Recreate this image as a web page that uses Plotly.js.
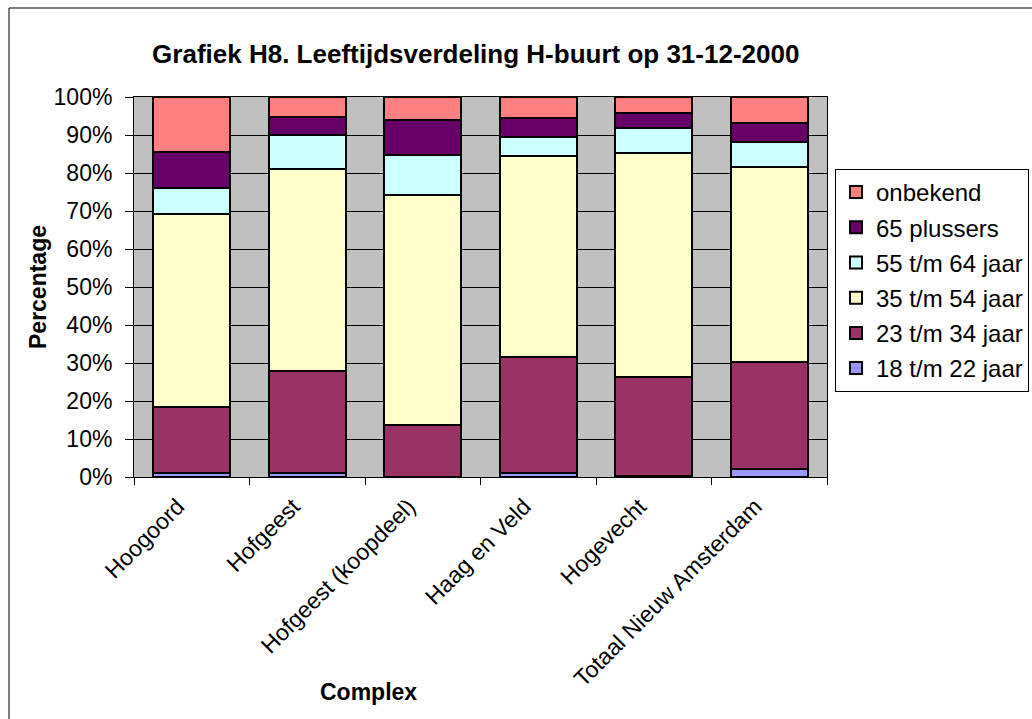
<!DOCTYPE html>
<html>
<head>
<meta charset="utf-8">
<script src="https://cdn.plot.ly/plotly-3.0.1.min.js"></script>
<style>html,body{margin:0;padding:0;background:#fff;}#chart{width:1032px;height:719px;}</style>
</head>
<body>
<div id="chart"></div>
<script>
var categories = ["Hoogoord", "Hofgeest", "Hofgeest (koopdeel)", "Haag en Veld", "Hogevecht", "Totaal Nieuw Amsterdam"];
var seriesNames = ["18 t/m 22 jaar", "23 t/m 34 jaar", "35 t/m 54 jaar", "55 t/m 64 jaar", "65 plussers", "onbekend"];
var v18_22 = [1.1, 1.1, 0.0, 1.1, 0.3, 2.1];
var v23_34 = [17.4, 26.8, 13.8, 30.5, 26.1, 28.2];
var v35_54 = [50.6, 53.2, 60.5, 53.0, 58.9, 51.4];
var v55_64 = [7.0, 8.8, 10.4, 4.8, 6.6, 6.5];
var v65plus = [9.4, 4.8, 9.2, 5.1, 3.9, 5.0];
var vOnbekend = [14.5, 5.3, 6.1, 5.5, 4.2, 6.8];
var seriesValues = [v18_22, v23_34, v35_54, v55_64, v65plus, vOnbekend];
var colors = ["#9999FF", "#993366", "#FFFFCC", "#CCFFFF", "#660066", "#FF8080"];

var FONT = "Liberation Sans, Arial, sans-serif";

var traces = seriesNames.map(function (name, i) {
  return {
    type: "bar",
    name: name,
    x: categories,
    y: seriesValues[i],
    legendgroup: "g" + i,
    legendrank: 1000 - i,
    marker: { color: colors[i], line: { color: "#000000", width: 2 } },
    hovertemplate: "%{x}<br>" + name + ": %{y}%<extra></extra>"
  };
});

var layout = {
  width: 1032,
  height: 719,
  margin: { l: 134, r: 205, t: 97, b: 242 },
  paper_bgcolor: "#FFFFFF",
  plot_bgcolor: "#C0C0C0",
  barmode: "stack",
  bargap: 0.336,
  font: { family: FONT, color: "#000000", size: 23 },
  title: {
    text: "<b>Grafiek H8. Leeftijdsverdeling H-buurt op 31-12-2000</b>",
    font: { family: FONT, size: 26, color: "#000000" },
    xref: "container", x: 0.461, xanchor: "center",
    yref: "container", y: 1 - 53.5 / 719, yanchor: "middle"
  },
  xaxis: {
    type: "category",
    showline: true, linecolor: "#000000", linewidth: 1, mirror: true,
    showgrid: false,
    ticks: "outside", tickson: "boundaries", ticklen: 7, tickcolor: "#000000", tickwidth: 1,
    tickangle: -45,
    ticklabelshift: -14,
    ticklabelstandoff: 6,
    tickfont: { family: FONT, size: 23, color: "#000000" },
    fixedrange: true
  },
  yaxis: {
    range: [0, 100],
    dtick: 10,
    ticksuffix: "%",
    showline: true, linecolor: "#000000", linewidth: 1, mirror: true,
    showgrid: true, gridcolor: "#000000", gridwidth: 1,
    ticks: "outside", ticklen: 8, tickcolor: "#000000", tickwidth: 1,
    ticklabelstandoff: 8,
    tickfont: { family: FONT, size: 23, color: "#000000" },
    title: { text: "<b>Percentage</b>", font: { family: FONT, size: 23, color: "#000000" }, standoff: 0 },
    zeroline: false,
    fixedrange: true
  },
  legend: {
    xref: "container", x: 835 / 1032, xanchor: "left",
    yref: "container", y: 1 - 169 / 719, yanchor: "top",
    traceorder: "grouped",
    tracegroupgap: 1,
    bgcolor: "#FFFFFF",
    bordercolor: "#000000",
    borderwidth: 1,
    font: { family: FONT, size: 24, color: "#000000" }
  },
  annotations: [{
    text: "<b>Complex</b>",
    xref: "paper", yref: "paper",
    x: (368 - 134) / 693, y: (477 - 692) / 380,
    xanchor: "center", yanchor: "middle",
    showarrow: false,
    font: { family: FONT, size: 23, color: "#000000" }
  }],
  shapes: [{
    type: "rect", xref: "paper", yref: "paper",
    x0: (9 - 134) / 693, x1: (1060 - 134) / 693,
    y0: (477 - 760) / 380, y1: (477 - 8) / 380,
    line: { color: "#000000", width: 1 },
    fillcolor: "rgba(0,0,0,0)",
    layer: "below"
  }]
};

Plotly.newPlot("chart", traces, layout, { displayModeBar: false, staticPlot: true });
</script>
</body>
</html>
